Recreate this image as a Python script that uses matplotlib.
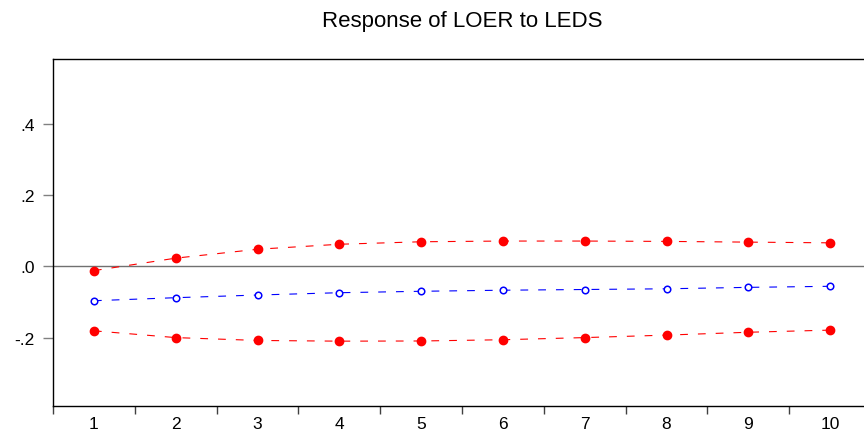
import numpy as np
import matplotlib.pyplot as plt

# impulse response, periods 1..10
periods = list(range(1, 11))
response = [-0.0965, -0.088, -0.0805, -0.074, -0.070, -0.067, -0.065, -0.063, -0.059, -0.056]
upper_band = [-0.012, 0.023, 0.048, 0.062, 0.069, 0.071, 0.071, 0.070, 0.068, 0.066]
lower_band = [-0.181, -0.200, -0.208, -0.210, -0.2095, -0.206, -0.200, -0.193, -0.185, -0.179]
ytick_vals = [-0.2, 0.0, 0.2, 0.4]
ytick_labels = ["-.2", ".0", ".2", ".4"]

plt.rcParams['font.family'] = ['Liberation Sans', 'DejaVu Sans']

fig = plt.figure(figsize=(8.64, 4.31), dpi=100)
ax = fig.add_axes([53/864, 24/431, 818/864, 347/431])

ax.axhline(0, color='#707070', lw=1.0, zorder=1)

ax.plot(periods, upper_band, color='red', lw=0.8, dashes=(7, 9),
        marker='o', markersize=6, markerfacecolor='red', markeredgecolor='red')
ax.plot(periods, lower_band, color='red', lw=0.8, dashes=(7, 9),
        marker='o', markersize=6, markerfacecolor='red', markeredgecolor='red')
ax.plot(periods, response, color='blue', lw=0.8, dashes=(7, 9),
        marker='o', markersize=4.7, markerfacecolor='white', markeredgecolor='blue',
        markeredgewidth=1.1)

ax.set_xlim(0.5, 10.5)
ax.set_ylim(-0.392, 0.582)

# x: labels at the centres, tick marks on the boundaries
ax.set_xticks(periods)
ax.set_xticklabels([str(p) for p in periods], fontsize=12.5)
ax.set_xticks(np.arange(0.5, 11, 1), minor=True)
ax.tick_params(axis='x', which='major', length=0, pad=7.5)
ax.tick_params(axis='x', which='minor', length=6, width=1, color='#404040', direction='out')

ax.set_yticks(ytick_vals)
ax.set_yticklabels(ytick_labels, fontsize=12.5)
ax.tick_params(axis='y', length=7, width=1, color='#808080', pad=6)

for s in ax.spines.values():
    s.set_color('black')
    s.set_linewidth(1.0)

fig.text(462/864, 1 - 22/431, "Response of LOER to LEDS", ha='center', va='center', fontsize=16)

fig.savefig("out.png", dpi=100)
